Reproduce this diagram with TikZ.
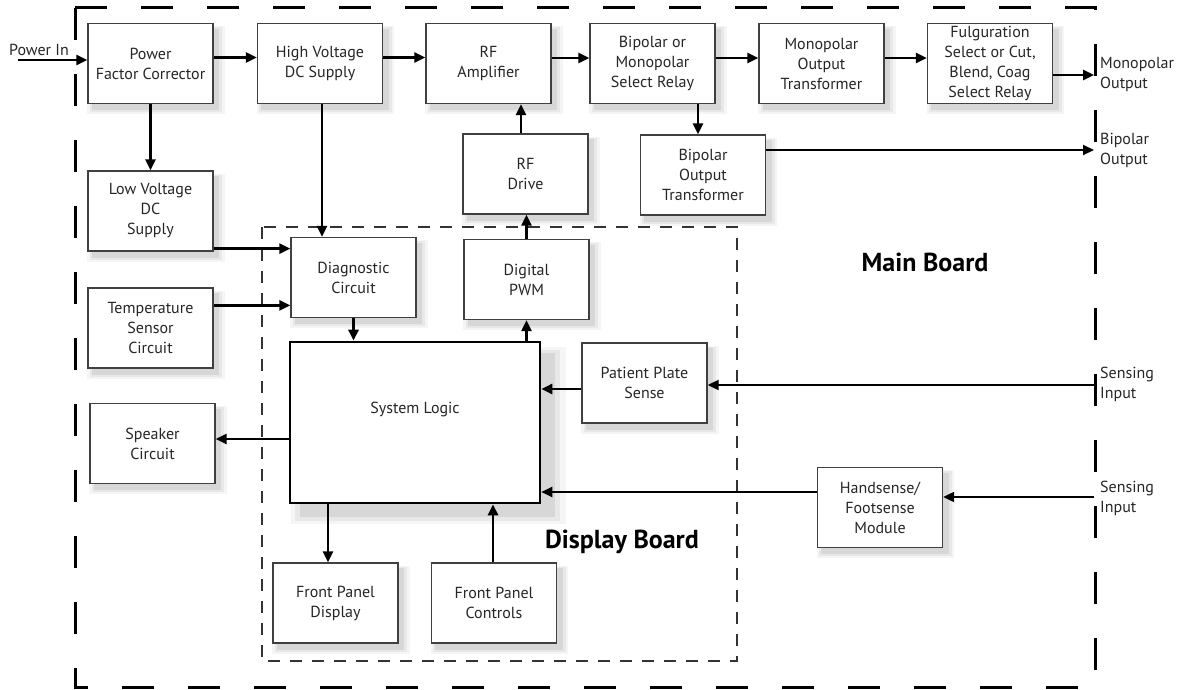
\documentclass[tikz,border=0pt]{standalone}
\usepackage{fontspec}
\setmainfont{PT Sans}
\usetikzlibrary{arrows.meta,shadows}
\begin{document}
\begin{tikzpicture}[x=1pt,y=-1pt,
  softshadow/.style={
    drop shadow={shadow xshift=5pt, shadow yshift=-6pt, opacity=0.08, shadow scale=1.10},
    drop shadow={shadow xshift=5pt, shadow yshift=-6pt, opacity=0.11, shadow scale=1.06},
    drop shadow={shadow xshift=5pt, shadow yshift=-6pt, opacity=0.16, shadow scale=1.02}},
  bigshadow/.style={
    drop shadow={shadow xshift=12pt, shadow yshift=-12pt, opacity=0.08, shadow scale=1.10},
    drop shadow={shadow xshift=12pt, shadow yshift=-12pt, opacity=0.11, shadow scale=1.06},
    drop shadow={shadow xshift=12pt, shadow yshift=-12pt, opacity=0.16, shadow scale=1.02}},
  blk/.style={draw=black!75, line width=1.3pt, fill=white, minimum width=125pt, minimum height=80pt,
    inner sep=0pt, align=center, font=\fontsize{16}{20}\selectfont, text=black!85, softshadow},
  arr/.style={draw=black, line width=2.6pt, -{Triangle[length=11pt,width=10pt]}},
  arrt/.style={draw=black, line width=2pt, -{Triangle[length=11pt,width=10pt]}},
  lbl/.style={align=left, anchor=west, inner sep=0pt, font=\fontsize{16}{20}\selectfont, text=black!85},
  board/.style={font=\fontsize{26}{30}\bfseries\selectfont, text=black, inner sep=0pt}
]
\useasboundingbox (0,0) rectangle (1184,690);

% boards
\draw[dash pattern=on 32pt off 34pt, line width=3pt] (75,8) rectangle (1095,687);
\draw[dash pattern=on 12pt off 10pt, line width=1.2pt, draw=black!80] (262,227) rectangle (737,661);

% top row
\node[blk] (pfc)   at (150.5,63.5) {Power\\Factor Corrector};
\node[blk] (hvdc)  at (320,63.5)   {High Voltage\\DC Supply};
\node[blk] (rfamp) at (488.5,63.5) {RF\\Amplifier};
\node[blk] (relay) at (652.5,63.5) {Bipolar or\\Monopolar\\Select Relay};
\node[blk] (monoxf) at (821.5,63.5) {Monopolar\\Output\\Transformer};
\node[blk] (fulg)  at (990,63.5)   {Fulguration\\Select or Cut,\\Blend, Coag\\Select Relay};

\node[blk] (rfdrive) at (525.5,174) {RF\\Drive};
\node[blk] (bixf)  at (703,175)    {Bipolar\\Output\\Transformer};

\node[blk] (lvdc)  at (150.5,211)  {Low Voltage\\DC\\Supply};
\node[blk] (diag)  at (353.5,277.5) {Diagnostic\\Circuit};
\node[blk] (pwm)   at (526.5,279.5) {Digital\\PWM};
\node[blk] (temp)  at (150.5,328)  {Temperature\\Sensor\\Circuit};
\node[blk] (spk)   at (152.5,443.5) {Speaker\\Circuit};
\node[draw=black, line width=2.6pt, fill=white, minimum width=250pt, minimum height=161pt,
  inner sep=0pt, align=center, font=\fontsize{16}{20}\selectfont, text=black!85, bigshadow]
  (sl) at (415,422.5) {System Logic\\[10pt]};
\node[blk] (pps)   at (644.5,383)  {Patient Plate\\Sense};
\node[blk] (hand)  at (880,507.5)  {Handsense/\\Footsense\\Module};
\node[blk] (fpd)   at (335.5,603)  {Front Panel\\Display};
\node[blk] (fpc)   at (494,603)    {Front Panel\\Controls};

% board labels
\node[board] (mainlbl) at (925,262) {Main Board};
\node[board] (displbl) at (622,542) {Display Board};

% external labels
\node[inner sep=0pt, font=\fontsize{16}{20}\selectfont, text=black!85] (pin) at (39,50) {Power In};
\node[lbl] (mout) at (1100,75)  {Monopolar\\Output};
\node[lbl] (bout) at (1100,150) {Bipolar\\Output};
\node[lbl] (sin1) at (1100,384) {Sensing\\Input};
\node[lbl] (sin2) at (1100,498) {Sensing\\Input};

\coordinate (pinS) at (18,60);
\coordinate (moE) at (1094,75);
\coordinate (boE) at (1094,150);
\coordinate (s1E) at (1094,385);
\coordinate (s2E) at (1094,497);

% top row arrows
\draw[arr] (pinS) -- (pinS -| pfc.west);
\draw[arr] ([yshift=6pt]pfc.east) -- ([yshift=6pt]hvdc.west);
\draw[arr] ([yshift=6pt]hvdc.east) -- ([yshift=6pt]rfamp.west);
\draw[arr] ([yshift=5.5pt]rfamp.east) -- ([yshift=5.5pt]relay.west);
\draw[arr] ([yshift=5.5pt]relay.east) -- ([yshift=5.5pt]monoxf.west);
\draw[arr] ([yshift=5.5pt]monoxf.east) -- ([yshift=5.5pt]fulg.west);
\draw[arr] (moE -| fulg.east) -- (moE);

% verticals
\draw[arr] (pfc.south) -- (lvdc.north);
\coordinate (hv1) at ([xshift=2pt]hvdc.south);
\draw[arr] (hv1) -- (hv1 |- diag.north);
\coordinate (rd1) at ([xshift=-4.5pt]rfdrive.north);
\draw[arr] (rd1) -- (rd1 |- rfamp.south);
\coordinate (bx1) at ([xshift=-5pt]bixf.north);
\draw[arr] (bx1 |- relay.south) -- (bx1);
\draw[arrt] (boE -| bixf.east) -- (boE);
\draw[arr] (pwm.north) -- (pwm.north |- rfdrive.south);

% into diagnostic
\coordinate (l1) at ([yshift=3pt]lvdc.south east);
\draw[arr] (l1) -- (l1 -| diag.west);
\coordinate (t1) at ([yshift=-18pt]temp.north east);
\draw[arr] (t1) -- (t1 -| diag.west);

% system logic
\draw[arr] (diag.south) -- (diag.south |- sl.north);
\draw[arr] (pwm.south |- sl.north) -- (pwm.south);
\coordinate (sp1) at ([yshift=4.5pt]spk.east);
\draw[arr] (sp1 -| sl.west) -- (sp1);
\coordinate (pp1) at ([yshift=-6pt]pps.west);
\draw[arr] (pp1) -- (pp1 -| sl.east);
\draw[arrt] (s1E) -- (s1E -| pps.east);
\coordinate (hs1) at ([yshift=15.5pt]hand.west);
\draw[arrt] (hs1) -- (hs1 -| sl.east);
\draw[arrt] (s2E) -- (s2E -| hand.east);
\coordinate (fd1) at ([xshift=-7.5pt]fpd.north);
\draw[arr] (fd1 |- sl.south) -- (fd1);
\coordinate (fc1) at ([xshift=-1pt]fpc.north);
\draw[arr] (fc1) -- (fc1 |- sl.south);
\end{tikzpicture}
\end{document}
